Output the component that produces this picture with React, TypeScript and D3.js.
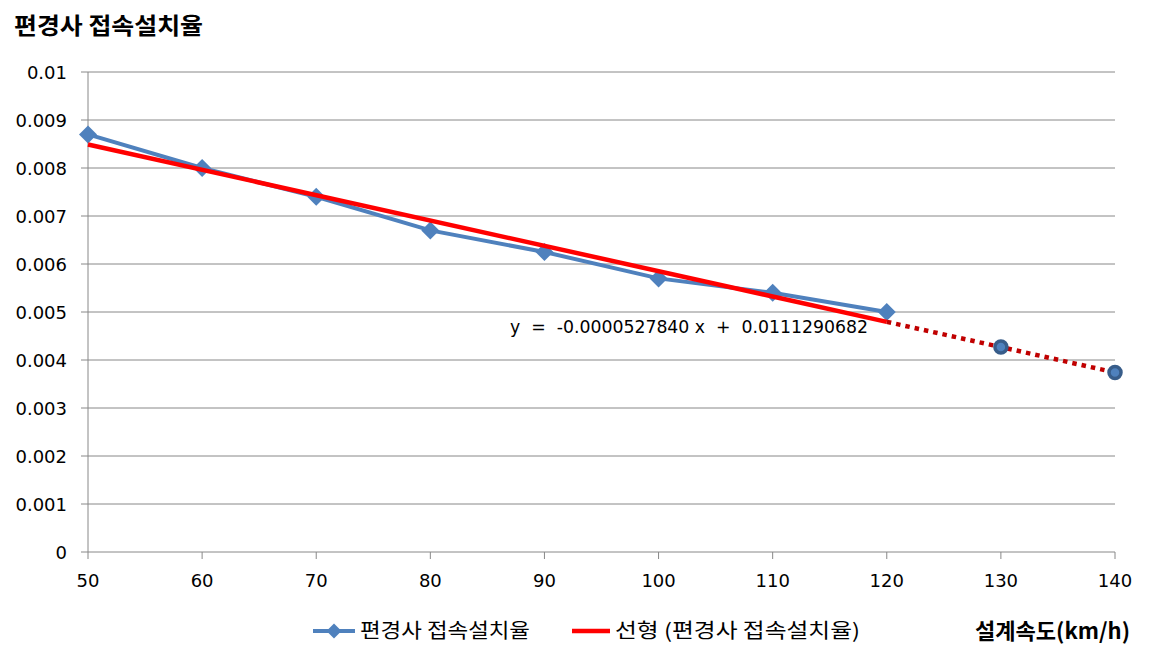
import React from "react";
import * as d3 from "d3";

const speeds = [50, 60, 70, 80, 90, 100, 110, 120];
const rates = [0.0087, 0.008, 0.0074, 0.0067, 0.00625, 0.0057, 0.0054, 0.005];
const extSpeeds = [130, 140];
const extRates = [0.00427, 0.00374];
const trendSlope = -0.000052784;
const trendIntercept = 0.0111290682;
const yTicks = [0, 0.001, 0.002, 0.003, 0.004, 0.005, 0.006, 0.007, 0.008, 0.009, 0.01];
const xTicks = [50, 60, 70, 80, 90, 100, 110, 120, 130, 140];
const titleText = "편경사 접속설치율";
const xTitle = "설계속도(km/h)";
const seriesName = "편경사 접속설치율";
const trendName = "선형 (편경사 접속설치율)";
const equationText = "y  =  -0.0000527840 x  +  0.0111290682";

const KFONT = "'Noto Sans CJK KR', 'Noto Sans', sans-serif";
const NFONT = "'DejaVu Sans', sans-serif";

export default function App() {
  const W = 1155, H = 662;
  const x = d3.scaleLinear().domain([50, 140]).range([88, 1115]);
  const y = d3.scaleLinear().domain([0, 0.01]).range([552, 72]);
  const line = d3.line<[number, number]>().x(d => x(d[0])).y(d => y(d[1]));
  const data: [number, number][] = speeds.map((s, i) => [s, rates[i]]);
  const trend = (v: number) => trendSlope * v + trendIntercept;
  const trendPts: [number, number][] = [[50, trend(50)], [120, trend(120)]];
  const extPts: [number, number][] = [[120, trend(120)], ...extSpeeds.map((s, i) => [s, extRates[i]] as [number, number])];
  const diamond = (cx: number, cy: number, r: number) => `M${cx},${cy - r}L${cx + r},${cy}L${cx},${cy + r}L${cx - r},${cy}Z`;

  return (
    <svg width={W} height={H} style={{ position: "absolute", left: 0, top: 0, background: "#fff" }} fontFamily={KFONT}>
      <rect width={W} height={H} fill="#fff" />
      <text x={14} y={34} fontSize={23} fontWeight="bold" fill="#000" textLength={189} lengthAdjust="spacingAndGlyphs">{titleText}</text>
      {yTicks.map(t => (
        <g key={t}>
          <line x1={81} x2={1115} y1={y(t)} y2={y(t)} stroke="#888" strokeWidth={1} />
          <text x={67} y={y(t) + 6.5} fontSize={18} fontFamily={NFONT} textAnchor="end" fill="#000">{t}</text>
        </g>
      ))}
      <line x1={88} x2={88} y1={72} y2={552} stroke="#888" strokeWidth={1} />
      {xTicks.map(t => (
        <g key={t}>
          <line x1={x(t)} x2={x(t)} y1={552} y2={559} stroke="#888" strokeWidth={1} />
          <text x={x(t)} y={587} fontSize={18} fontFamily={NFONT} textAnchor="middle" fill="#000">{t}</text>
        </g>
      ))}
      <path d={line(data) || ""} fill="none" stroke="#4F81BD" strokeWidth={4} />
      {data.map((d, i) => (
        <path key={i} d={diamond(x(d[0]), y(d[1]), 9)} fill="#4F81BD" />
      ))}
      <path d={line(trendPts) || ""} fill="none" stroke="#FF0000" strokeWidth={4.5} />
      <path d={line(extPts) || ""} fill="none" stroke="#C00000" strokeWidth={4.5} strokeDasharray="4.5 5" />
      {extPts.slice(1).map((d, i) => (
        <circle key={i} cx={x(d[0])} cy={y(d[1])} r={6} fill="#4F81BD" stroke="#385D8A" strokeWidth={3.5} />
      ))}
      <text x={510} y={333} fontSize={18.5} fontFamily={NFONT} fill="#000" style={{ whiteSpace: "pre" }} textLength={358} lengthAdjust="spacingAndGlyphs">{equationText}</text>
      <line x1={313} x2={355} y1={631} y2={631} stroke="#4F81BD" strokeWidth={4} />
      <path d={diamond(334, 631, 7.5)} fill="#4F81BD" />
      <text x={360} y={638} fontSize={20} fill="#000" textLength={170} lengthAdjust="spacingAndGlyphs">{seriesName}</text>
      <line x1={572} x2={610} y1={631} y2={631} stroke="#FF0000" strokeWidth={4.5} />
      <text x={615} y={638} fontSize={20} fill="#000" textLength={245} lengthAdjust="spacingAndGlyphs">{trendName}</text>
      <text x={975} y={639} fontSize={22} fontWeight="bold" fill="#000" textLength={155} lengthAdjust="spacingAndGlyphs">{xTitle}</text>
    </svg>
  );
}
